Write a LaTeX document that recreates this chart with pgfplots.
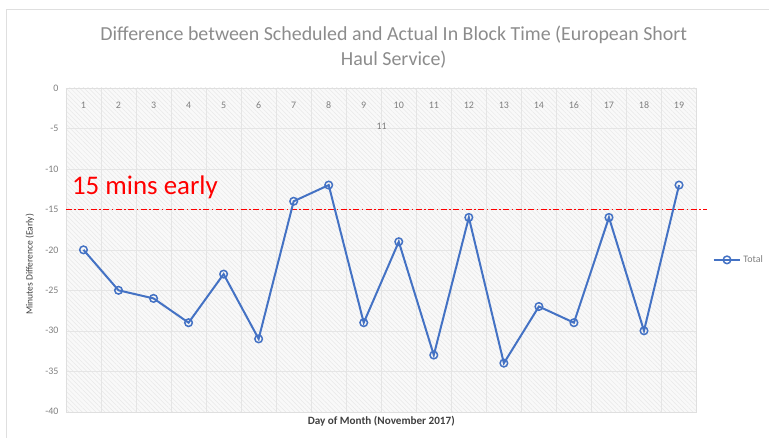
\documentclass[border=0pt]{standalone}
\usepackage{pgfplots}
\pgfplotsset{compat=1.18}
\usepackage{fontspec}
\setmainfont{Carlito}
\usetikzlibrary{patterns.meta}
\definecolor{lineblue}{HTML}{4472C4}
\definecolor{txtgray}{HTML}{808080}
\definecolor{ttlgray}{HTML}{8C8C8C}
\definecolor{dkgray}{HTML}{404040}
\definecolor{purered}{HTML}{FF0000}
\begin{document}
\begin{tikzpicture}
\path (0,0) rectangle (769bp,438bp);
\draw[gray!25, line width=1bp] (7bp,0) -- (7bp,428bp) -- (769bp,428bp);
\begin{scope}
\fill[gray!5] (66bp,26bp) rectangle (697bp,350bp);
\fill[pattern={Lines[angle=-45, distance=3.2bp, line width=0.5bp]}, pattern color=gray!18] (66bp,26bp) rectangle (697bp,350bp);
\end{scope}
\node[ttlgray, font=\fontsize{20}{24}\selectfont] at (394bp,403bp) {Difference between Scheduled and Actual In Block Time (European Short};
\node[ttlgray, font=\fontsize{20}{24}\selectfont] at (394bp,378bp) {Haul Service)};
\begin{axis}[
  at={(66bp,26bp)}, anchor=south west,
  scale only axis, width=631bp, height=324bp,
  xmin=-0.5, xmax=17.5, ymin=-40, ymax=0,
  clip=false,
  axis line style={gray!25},
  xtick={0,...,17},
  xticklabels={1,2,3,4,5,6,7,8,9,10,11,12,13,14,16,17,18,19},
  xticklabel pos=upper,
  xticklabel style={anchor=center, yshift=-17bp, font=\fontsize{10}{12}\selectfont, text=txtgray},
  minor xtick={-0.5,0.5,...,17.5},
  xminorgrids, minor x grid style={gray!20},
  major tick length=0pt, minor tick length=0pt,
  ytick={-40,-35,...,0},
  ymajorgrids, major grid style={gray!20},
  yticklabel style={font=\fontsize{10}{12}\selectfont, text=txtgray, xshift=-4bp},
  /pgf/number format/assume math mode=true,
  xlabel={Day of Month (November 2017)},
  xlabel style={at={(axis description cs:0.5,-0.028)}, anchor=center, font=\bfseries\fontsize{11.2}{13}\selectfont, text=dkgray},
  ylabel={Minutes Difference (Early)},
  ylabel style={at={(axis description cs:-0.057,0.455)}, anchor=center, rotate=0, font=\fontsize{9.6}{11}\selectfont, text=dkgray},
  legend style={at={(1.025,0.469)}, anchor=west, draw=none, fill=none, font=\fontsize{10}{12}\selectfont, text=txtgray, inner sep=0pt},
  legend image code/.code={\draw[mark repeat=2,mark phase=2,#1] plot coordinates {(0bp,0bp) (13.5bp,0bp) (27bp,0bp)};},
]
\addplot[color=purered, line width=1.3bp, no markers, dash pattern=on 6bp off 2.5bp on 1.5bp off 2.5bp, forget plot]
coordinates {(-0.5,-15) (17.81,-15)};
\addplot[lineblue, line width=2bp, mark=o, mark size=3.8bp, mark options={fill=white, line width=1.5bp, solid}]
coordinates {(0,-20) (1,-25) (2,-26) (3,-29) (4,-23) (5,-31) (6,-14) (7,-12) (8,-29) (9,-19) (10,-33) (11,-16) (12,-34) (13,-27) (14,-29) (15,-16) (16,-30) (17,-12)};
\addlegendentry{Total}
\node[purered, anchor=west, font=\fontsize{27}{30}\selectfont, inner sep=0pt] at (axis cs:-0.33,-12.3) {15 mins early};
\node[txtgray, font=\fontsize{10}{12}\selectfont] at (axis cs:8.51,-4.7) {11};
\end{axis}
\end{tikzpicture}
\end{document}
